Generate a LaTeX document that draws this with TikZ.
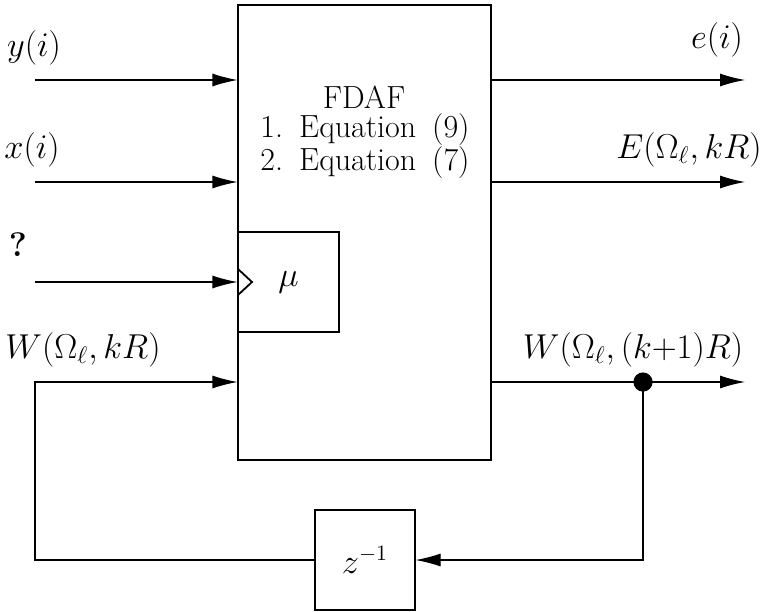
\documentclass[tikz,border=0pt]{standalone}
\usetikzlibrary{arrows.meta}
\begin{document}
\begin{tikzpicture}[x=0.5pt,y=-0.5pt,
  every node/.style={font=\fontsize{16}{19}\selectfont},
  box/.style={draw,line width=0.55pt,inner sep=0pt},
  wire/.style={line width=0.55pt},
  arr/.style={wire,-{Latex[length=12.5pt,width=6.5pt]}},
  lbl/.style={inner sep=0pt,font=\fontsize{17}{20}\selectfont}]
\useasboundingbox (0,0) rectangle (760,611);
% boxes
\node[box,minimum width=126.5pt,minimum height=227.5pt] (main) at (364.5,232.5) {};
\node[box,minimum width=50.5pt,minimum height=50pt] (mu) at (288.5,282) {$\mu$};
\node[box,minimum width=50pt,minimum height=50pt] (zd) at (365,560) {$z^{-1}$};
% texts in main box
\node[inner sep=0pt] (t1) at (364,97) {FDAF};
\node[inner sep=0pt] (t2) at (365,130) {1.\hspace{0.5em}Equation\hspace{0.5em}(9)};
\node[inner sep=0pt] (t3) at (365,163) {2.\hspace{0.5em}Equation\hspace{0.5em}(7)};
% clock marker
\coordinate (m1) at (238,269);
\coordinate (m2) at (252,282);
\coordinate (m3) at (238,295);
\draw[wire,line width=0.9pt] (m1) -- (m2) -- (m3);
% input coordinates
\coordinate (iy) at (35,80);
\coordinate (ix) at (35,182);
\coordinate (iq) at (35,282);
\coordinate (iw) at (35,382);
\draw[arr] (iy) -- (iy -| main.west);
\draw[arr] (ix) -- (ix -| main.west);
\draw[arr] (iq) -- (iq -| main.west);
% outputs
\coordinate (oe) at (745,80);
\coordinate (oE) at (745,182);
\coordinate (oW) at (745,382);
\coordinate (dot) at (643,382);
\coordinate (fb) at (643,560);
\draw[arr] (oe -| main.east) -- (oe);
\draw[arr] (oE -| main.east) -- (oE);
\draw[arr] (oW -| main.east) -- (oW);
\fill (dot) circle (4.8pt);
% feedback
\draw[arr] (dot) -- (fb) -- (zd.east);
\coordinate (fl) at (35,560);
\draw[arr] (zd.west) -- (fl) -- (iw) -- (iw -| main.west);
% labels
\node[lbl] (ly) at (34,48) {$y(i)$};
\node[lbl] (lx) at (32,150) {$x(i)$};
\node[lbl] (lq) at (18,245) {\textbf{?}};
\node[lbl] (lw) at (83,350) {$W(\Omega_\ell,kR)$};
\node[lbl] (le) at (717,40) {$e(i)$};
\node[lbl] (lE) at (689,150) {$E(\Omega_\ell,kR)$};
\node[lbl] (lW) at (633,350) {$W(\Omega_\ell,(k{+}1)R)$};
\end{tikzpicture}
\end{document}
